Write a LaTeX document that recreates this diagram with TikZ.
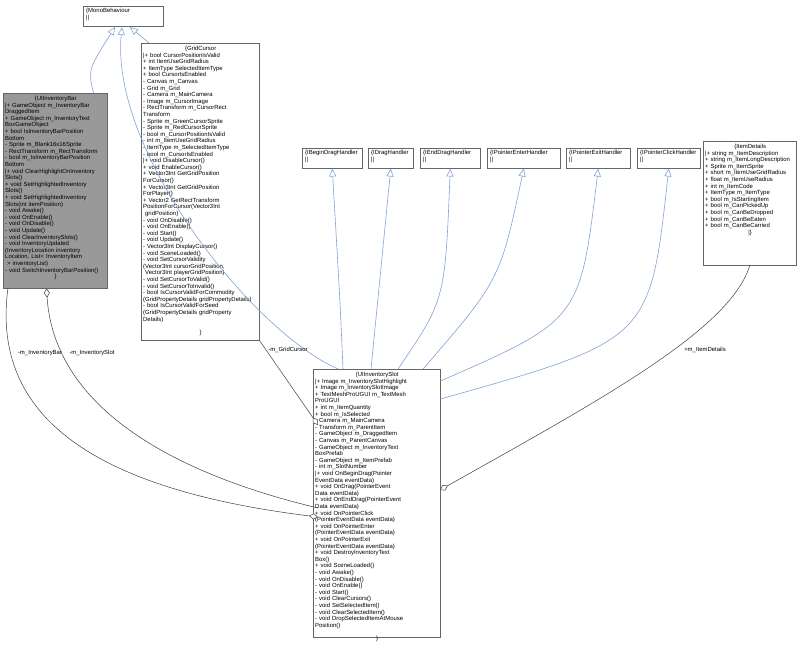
\documentclass[tikz,border=0pt]{standalone}
\usepackage{fontspec}
\setmainfont{Liberation Sans}
\usetikzlibrary{arrows.meta}
\begin{document}
\begin{tikzpicture}[x=1pt,y=-1pt,
 box/.style={draw=black!60,line width=0.5pt,anchor=north west,inner sep=0pt},
 txt/.style={anchor=north west,inner sep=0pt,align=left,font=\fontsize{5.95}{6.6}\selectfont},
 inh/.style={draw=cyan!45!blue!50,line width=0.6pt,-{Triangle[open,length=8pt,width=7pt,fill=white]}},
 comp/.style={draw=black!75,line width=0.5pt,{Diamond[open,length=9pt,width=6pt,fill=white]}-},
 lab/.style={font=\fontsize{5.95}{6.75}\selectfont,inner sep=1pt}]
\useasboundingbox (0,0) rectangle (799,647);
\fill[white] (0,0) rectangle (799,647);
% boxes
\node[box,minimum width=80,minimum height=20] (mono) at (83,6) {};
\node[txt] at (86,8) {\{MonoBehaviour\\||};
\node[box,fill=black!40,minimum width=104,minimum height=195] (bar) at (3,93) {};
\node[txt,text width=101] (bart) at (5,96) {\makebox[\linewidth][c]{\{UIInventoryBar}\\
|+ GameObject m\_InventoryBar\\DraggedItem\\+ GameObject m\_InventoryText\\BoxGameObject\\+ bool IsInventoryBarPosition\\Bottom\\- Sprite m\_Blank16x16Sprite\\- RectTransform m\_RectTransform\\- bool m\_IsInventoryBarPosition\\Bottom\\|+ void ClearHighlightOnInventory\\Slots()\\+ void SetHighlightedInventory\\Slots()\\+ void SetHighlightedInventory\\Slots(int itemPosition)\\- void Awake()\\- void OnEnable()\\- void OnDisable()\\- void Update()\\- void ClearInventorySlots()\\- void InventoryUpdated\\(InventoryLocation inventory\\Location, List< InventoryItem\\\mbox{} > inventoryList)\\- void SwitchInventoryBarPosition()\\\makebox[\linewidth][c]{\}}};
\node[box,minimum width=118,minimum height=297] (grid) at (141,43) {};
\node[txt,text width=115] at (143,46) {\makebox[\linewidth][c]{\{GridCursor}\\
|+ bool CursorPositionIsValid\\+ int ItemUseGridRadius\\+ ItemType SelectedItemType\\+ bool CursorIsEnabled\\- Canvas m\_Canvas\\- Grid m\_Grid\\- Camera m\_MainCamera\\- Image m\_CursorImage\\- RectTransform m\_CursorRect\\Transform\\- Sprite m\_GreenCursorSprite\\- Sprite m\_RedCursorSprite\\- bool m\_CursorPositionIsValid\\- int m\_ItemUseGridRadius\\- ItemType m\_SelectedItemType\\- bool m\_CursorIsEnabled\\|+ void DisableCursor()\\+ void EnableCursor()\\+ Vector3Int GetGridPosition\\ForCursor()\\+ Vector3Int GetGridPosition\\ForPlayer()\\+ Vector2 GetRectTransform\\PositionForCursor(Vector3Int\\\mbox{} gridPosition)\\- void OnDisable()\\- void OnEnable()\\- void Start()\\- void Update()\\- Vector3Int DisplayCursor()\\- void SceneLoaded()\\- void SetCursorValidity\\(Vector3Int cursorGridPosition,\\\mbox{} Vector3Int playerGridPosition)\\- void SetCursorToValid()\\- void SetCursorToInvalid()\\- bool IsCursorValidForCommodity\\(GridPropertyDetails gridPropertyDetails)\\- bool IsCursorValidForSeed\\(GridPropertyDetails gridProperty\\Details)\\\mbox{}\\\makebox[\linewidth][c]{\}}};
% interfaces
\foreach \n/\x/\w/\t in {ibd/302/60/IBeginDragHandler,idr/368/45/IDragHandler,ied/420/60/IEndDragHandler,ipe/487/73/IPointerEnterHandler,ipx/566/64/IPointerExitHandler,ipc/637/63/IPointerClickHandler}{
 \node[box,minimum width=\w,minimum height=20] (\n) at (\x,148) {};
 \node[txt] at (\x+3,150) {\{\t\\||};
}
\node[box,minimum width=93,minimum height=124] (item) at (703,141) {};
\node[txt,text width=90] at (705,144) {\makebox[\linewidth][c]{\{ItemDetails}\\
|+ string m\_ItemDescription\\+ string m\_ItemLongDescription\\+ Sprite m\_ItemSprite\\+ short m\_ItemUseGridRadius\\+ float m\_ItemUseRadius\\+ int m\_ItemCode\\+ ItemType m\_ItemType\\+ bool m\_IsStartingItem\\+ bool m\_CanPickedUp\\+ bool m\_CanBeDropped\\+ bool m\_CanBeEaten\\+ bool m\_CanBeCarried\\\makebox[\linewidth][c]{|\}}};
\node[box,minimum width=127,minimum height=268] (slot) at (313,369) {};
\node[txt,text width=124] at (315,372) {\makebox[\linewidth][c]{\{UIInventorySlot}\\
|+ Image m\_InventorySlotHighlight\\+ Image m\_InventorySlotImage\\+ TextMeshProUGUI m\_TextMesh\\ProUGUI\\+ int m\_ItemQuantity\\+ bool m\_IsSelected\\- Camera m\_MainCamera\\- Transform m\_ParentItem\\- GameObject m\_DraggedItem\\- Canvas m\_ParentCanvas\\- GameObject m\_InventoryText\\BoxPrefab\\- GameObject m\_ItemPrefab\\- int m\_SlotNumber\\|+ void OnBeginDrag(Pointer\\EventData eventData)\\+ void OnDrag(PointerEvent\\Data eventData)\\+ void OnEndDrag(PointerEvent\\Data eventData)\\+ void OnPointerClick\\(PointerEventData eventData)\\+ void OnPointerEnter\\(PointerEventData eventData)\\+ void OnPointerExit\\(PointerEventData eventData)\\+ void DestroyInventoryText\\Box()\\+ void SceneLoaded()\\- void Awake()\\- void OnDisable()\\- void OnEnable()\\- void Start()\\- void ClearCursors()\\- void SetSelectedItem()\\- void ClearSelectedItem()\\- void DropSelectedItemAtMouse\\Position()\\\mbox{}\\\makebox[\linewidth][c]{\}}};
% inheritance
\coordinate (m1) at (115,27); \coordinate (m2) at (122,27); \coordinate (m3) at (130,27);
\draw[inh] ([xshift=-14pt]bar.north east) .. controls (88,70) .. (m1);
\draw[inh] ([xshift=25pt]slot.north west) .. controls (250,330) and (110,150) .. (m2);
\draw[inh] ([xshift=8pt]grid.north west) -- (m3);
\draw[inh] ([xshift=30pt]slot.north west) .. controls (340,300) .. (ibd.south);
\draw[inh] ([xshift=58pt]slot.north west) -- (idr.south);
\draw[inh] ([xshift=85pt]slot.north west) .. controls (445,300) .. (ied.south);
\draw[inh] ([xshift=110pt]slot.north west) .. controls (500,280) .. (ipe.south);
\draw[inh] ([yshift=-12pt]slot.north east) .. controls (580,320) .. (ipx.south);
\draw[inh] ([yshift=-30pt]slot.north east) .. controls (650,340) .. (ipc.south);
% compositions
\coordinate (bb1) at (8,288);
\draw[comp] (318,517) .. controls (100,490) and (-10,420) .. (bb1);
\draw[comp] ([xshift=-61pt]bar.south east) .. controls (55,420) and (200,480) .. (318,508);
\node[lab] (l1) at (40,353) {-m\_InventoryBar};
\node[lab] (l2) at (92,353) {-m\_InventorySlot};
\draw[comp] (318,425) -- (grid.south east);
\node[lab] (l3) at (288,350) {-m\_GridCursor};
\draw[comp] (440,490) .. controls (600,400) and (730,330) .. (item.south);
\node[lab] (l4) at (705,350) {+m\_ItemDetails};
\end{tikzpicture}
\end{document}
